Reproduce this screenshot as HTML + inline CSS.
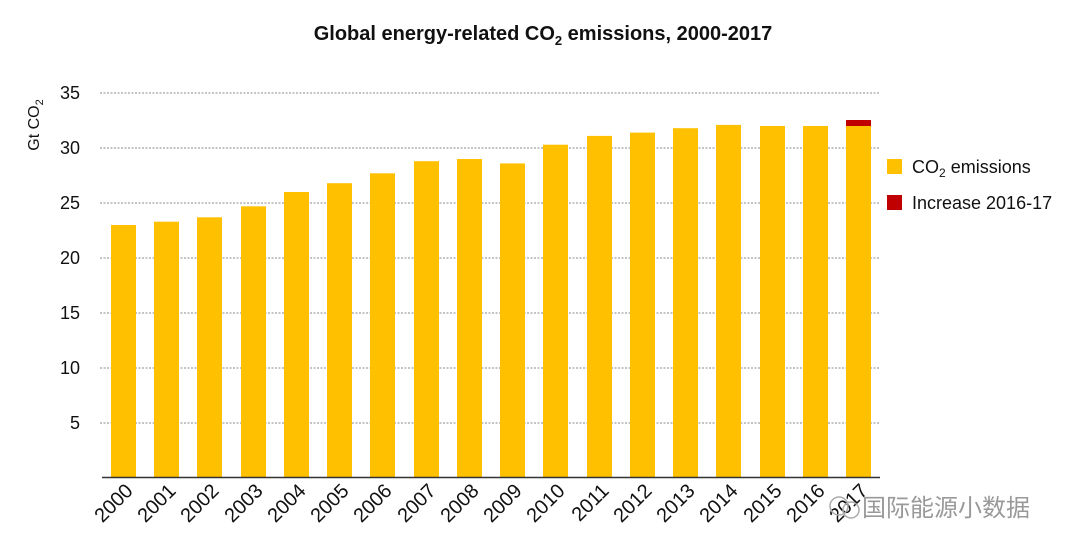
<!DOCTYPE html>
<html><head><meta charset="utf-8"><style>
body{margin:0;background:#fff;}
svg{display:block;font-family:"Liberation Sans","Noto Sans CJK SC",sans-serif;}
</style></head><body>
<svg width="1080" height="553" viewBox="0 0 1080 553">
<text x="543" y="40" text-anchor="middle" font-size="20" font-weight="bold" fill="#111">Global energy-related CO<tspan font-size="13" dy="5">2</tspan><tspan dy="-5"> emissions, 2000-2017</tspan></text>
<g stroke="#888" stroke-width="1" stroke-dasharray="2,1.5">
<line x1="100" x2="880" y1="93" y2="93"/><line x1="100" x2="880" y1="148" y2="148"/>
<line x1="100" x2="880" y1="203" y2="203"/><line x1="100" x2="880" y1="258" y2="258"/>
<line x1="100" x2="880" y1="313" y2="313"/><line x1="100" x2="880" y1="368" y2="368"/>
<line x1="100" x2="880" y1="423" y2="423"/>
</g>
<g font-size="18" fill="#111" text-anchor="end">
<text x="80" y="99">35</text><text x="80" y="154">30</text><text x="80" y="209">25</text>
<text x="80" y="264">20</text><text x="80" y="319">15</text><text x="80" y="374">10</text><text x="80" y="429">5</text>
</g>
<text transform="translate(39,125) rotate(-90)" text-anchor="middle" font-size="16" fill="#111">Gt CO<tspan font-size="11" dy="4">2</tspan></text>
<g fill="#FFC000">
<rect x="111" y="225" width="25" height="253"/>
<rect x="154" y="221.7" width="25" height="256.3"/>
<rect x="197" y="217.3" width="25" height="260.7"/>
<rect x="241" y="206.3" width="25" height="271.7"/>
<rect x="284" y="192" width="25" height="286"/>
<rect x="327" y="183.2" width="25" height="294.8"/>
<rect x="370" y="173.3" width="25" height="304.7"/>
<rect x="414" y="161.2" width="25" height="316.8"/>
<rect x="457" y="159" width="25" height="319"/>
<rect x="500" y="163.4" width="25" height="314.6"/>
<rect x="543" y="144.7" width="25" height="333.3"/>
<rect x="587" y="135.9" width="25" height="342.1"/>
<rect x="630" y="132.6" width="25" height="345.4"/>
<rect x="673" y="128.2" width="25" height="349.8"/>
<rect x="716" y="124.9" width="25" height="353.1"/>
<rect x="760" y="126" width="25" height="352"/>
<rect x="803" y="126" width="25" height="352"/>
<rect x="846" y="126" width="25" height="352"/>
</g>
<rect x="846" y="120" width="25" height="6" fill="#C00000"/>
<line x1="102" x2="880" y1="477.5" y2="477.5" stroke="#333" stroke-width="1.5"/>
<g font-size="20" fill="#111" text-anchor="end">
<text transform="translate(134,492) rotate(-45)">2000</text>
<text transform="translate(177,492) rotate(-45)">2001</text>
<text transform="translate(220,492) rotate(-45)">2002</text>
<text transform="translate(264,492) rotate(-45)">2003</text>
<text transform="translate(307,492) rotate(-45)">2004</text>
<text transform="translate(350,492) rotate(-45)">2005</text>
<text transform="translate(393,492) rotate(-45)">2006</text>
<text transform="translate(437,492) rotate(-45)">2007</text>
<text transform="translate(480,492) rotate(-45)">2008</text>
<text transform="translate(523,492) rotate(-45)">2009</text>
<text transform="translate(566,492) rotate(-45)">2010</text>
<text transform="translate(610,492) rotate(-45)">2011</text>
<text transform="translate(653,492) rotate(-45)">2012</text>
<text transform="translate(696,492) rotate(-45)">2013</text>
<text transform="translate(739,492) rotate(-45)">2014</text>
<text transform="translate(783,492) rotate(-45)">2015</text>
<text transform="translate(826,492) rotate(-45)">2016</text>
<text transform="translate(869,492) rotate(-45)">2017</text>
</g>
<rect x="887" y="159" width="15" height="15" fill="#FFC000"/>
<text x="912" y="173" font-size="18" fill="#111">CO<tspan font-size="12" dy="4">2</tspan><tspan dy="-4"> emissions</tspan></text>
<rect x="887" y="195" width="15" height="15" fill="#C00000"/>
<text x="912" y="209" font-size="18" fill="#111">Increase 2016-17</text>
<circle cx="839" cy="506" r="9" fill="none" stroke="#aaa" stroke-width="1.5"/>
<circle cx="851" cy="510" r="8" fill="none" stroke="#aaa" stroke-width="1.5"/>
<text x="862" y="516" font-size="24" fill="#999">国际能源小数据</text>
</svg>
</body></html>
